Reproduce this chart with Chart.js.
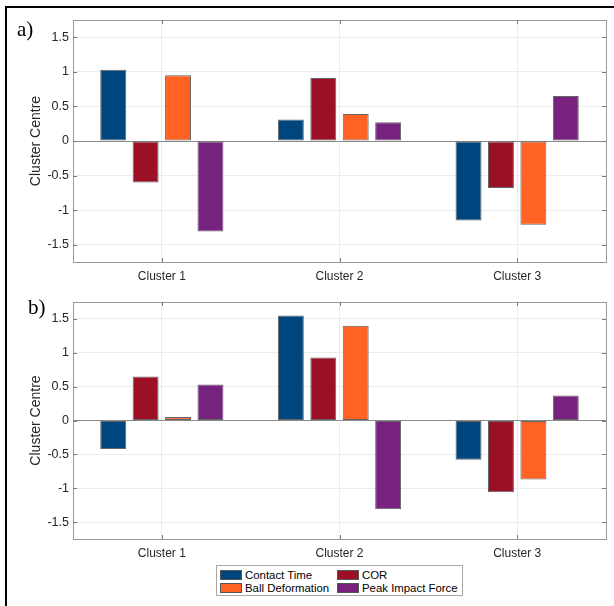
<!DOCTYPE html>
<html>
<head>
<meta charset="utf-8">
<script src="https://cdn.jsdelivr.net/npm/chart.js@4.4.1/dist/chart.umd.min.js"></script>
<style>
  html, body { margin: 0; padding: 0; background: #fff; }
  #page { position: relative; width: 614px; height: 606px; overflow: hidden; }
  #frameTop { position: absolute; left: 5px; top: 6px; width: 609px; height: 2px; background: #000; }
  #frameLeft { position: absolute; left: 5px; top: 6px; width: 2px; height: 600px; background: #000; }
  canvas { position: absolute; left: 0; }
  .panel-tag { position: absolute; font-family: "Liberation Serif", "DejaVu Serif", serif; font-size: 21px; color: #000; }
  #legend { position: absolute; left: 216px; top: 565px; width: 245px; height: 29px; border: 1px solid #a8a8a8; background: #fff;
            font-family: "Liberation Sans", Arial, sans-serif; font-size: 11.4px; color: #000; }
  .lg-item { position: absolute; height: 12px; line-height: 12px; white-space: nowrap; }
  .lg-swatch { position: absolute; left: 0; top: 1px; width: 22px; height: 10px; border: 1px solid #555; box-sizing: border-box; }
  .lg-text { position: absolute; left: 25px; top: 0; }
</style>
</head>
<body>
<div id="page">
  <div id="frameTop"></div>
  <div id="frameLeft"></div>
  <canvas id="chartA" width="614" height="285" style="top:0px"></canvas>
  <canvas id="chartB" width="614" height="285" style="top:285px"></canvas>
  <div class="panel-tag" style="left:17px; top:17px;">a)</div>
  <div class="panel-tag" style="left:28px; top:295px;">b)</div>
  <div id="legend"></div>
</div>
<script>
const clusters = ["Cluster 1", "Cluster 2", "Cluster 3"];
const seriesNames = ["Contact Time", "COR", "Ball Deformation", "Peak Impact Force"];
const seriesColors = ["#00467e", "#9c1026", "#ff6222", "#77227f"];
const yTicks = [-1.5, -1, -0.5, 0, 0.5, 1, 1.5];
const yLabel = "Cluster Centre";

// panel a)
const aContactTime = [1.03, 0.31, -1.15];
const aCOR = [-0.60, 0.91, -0.68];
const aBallDeformation = [0.95, 0.39, -1.21];
const aPeakImpactForce = [-1.31, 0.27, 0.65];

// panel b)
const bContactTime = [-0.42, 1.55, -0.58];
const bCOR = [0.65, 0.93, -1.06];
const bBallDeformation = [0.05, 1.40, -0.87];
const bPeakImpactForce = [0.53, -1.31, 0.37];

const font = "'Liberation Sans', Arial, sans-serif";
const textColor = "#262626";

// MATLAB style box with inward ticks
const boxTicks = {
    id: "boxTicks",
    afterDraw(chart) {
        const ctx = chart.ctx;
        const a = chart.chartArea;
        const xs = chart.scales.x;
        const ys = chart.scales.y;
        ctx.save();
        ctx.strokeStyle = "#9a9a9a";
        ctx.lineWidth = 1;
        ctx.strokeRect(Math.round(a.left) + 0.5, Math.round(a.top) + 0.5,
            Math.round(a.right - a.left), Math.round(a.bottom - a.top));
        ctx.strokeStyle = "#7a7a7a";
        ctx.beginPath();
        yTicks.forEach(v => {
            const y = Math.round(ys.getPixelForValue(v)) + 0.5;
            ctx.moveTo(a.left, y); ctx.lineTo(a.left + 4, y);
            ctx.moveTo(a.right, y); ctx.lineTo(a.right - 4, y);
        });
        clusters.forEach((c, i) => {
            const x = Math.round(xs.getPixelForValue(i)) + 0.5;
            ctx.moveTo(x, a.top); ctx.lineTo(x, a.top + 4);
            ctx.moveTo(x, a.bottom); ctx.lineTo(x, a.bottom - 4);
        });
        ctx.stroke();
        ctx.restore();
    }
};

function makeChart(id, values, padTop, xAxisHeight) {
    const ctx = document.getElementById(id).getContext("2d");
    return new Chart(ctx, {
        type: "bar",
        data: {
            labels: clusters,
            datasets: seriesNames.map((name, i) => ({
                label: name,
                data: values[i],
                backgroundColor: seriesColors[i],
                borderColor: "rgba(50,50,50,0.75)",
                borderWidth: 1,
                borderSkipped: false,
                categoryPercentage: 0.73,
                barPercentage: 0.8
            }))
        },
        options: {
            responsive: false,
            animation: false,
            devicePixelRatio: 1,
            layout: { padding: { top: padTop, right: 8, bottom: 0, left: 0 } },
            plugins: {
                legend: { display: false },
                tooltip: { enabled: false }
            },
            scales: {
                x: {
                    offset: true,
                    grid: { offset: false, color: "#ececec", drawTicks: false },
                    border: { display: false },
                    ticks: { color: textColor, font: { family: font, size: 12 }, padding: 7 },
                    afterFit: s => { s.height = xAxisHeight; }
                },
                y: {
                    min: -1.75,
                    max: 1.75,
                    afterBuildTicks: s => { s.ticks = yTicks.map(v => ({ value: v })); },
                    grid: {
                        color: c => (c.tick && c.tick.value === 0) ? "#8a8a8a" : "#ececec",
                        drawTicks: false
                    },
                    border: { display: false },
                    ticks: {
                        color: textColor,
                        font: { family: font, size: 12.5 },
                        padding: 4,
                        callback: v => String(v)
                    },
                    title: {
                        display: true,
                        text: yLabel,
                        color: textColor,
                        font: { family: font, size: 14 },
                        padding: { top: 28, bottom: 0 }
                    },
                    afterFit: s => { s.width = 73; }
                }
            }
        },
        plugins: [boxTicks]
    });
}

makeChart("chartA", [aContactTime, aCOR, aBallDeformation, aPeakImpactForce], 20, 23);
makeChart("chartB", [bContactTime, bCOR, bBallDeformation, bPeakImpactForce], 17, 31);

// legend: 2 columns x 2 rows, filled column-wise like MATLAB
const legend = document.getElementById("legend");
const legendPos = [[3, 3], [120, 3], [3, 16], [120, 16]];
seriesNames.forEach((name, i) => {
    const item = document.createElement("div");
    item.className = "lg-item";
    item.style.left = legendPos[i][0] + "px";
    item.style.top = legendPos[i][1] + "px";
    item.innerHTML = '<div class="lg-swatch" style="background:' + seriesColors[i] + '"></div><div class="lg-text">' + name + "</div>";
    legend.appendChild(item);
});
</script>
</body>
</html>
